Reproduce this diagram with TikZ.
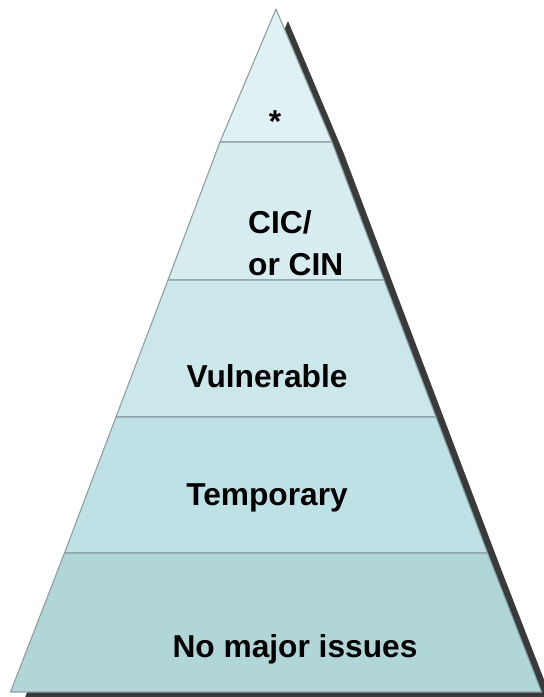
\documentclass[tikz,border=0pt]{standalone}
\usepackage{fontspec}
\setmainfont{Liberation Sans}
\usepackage{tikz}
\usetikzlibrary{positioning}
\definecolor{tierA}{RGB}{224,241,243}
\definecolor{tierB}{RGB}{215,236,239}
\definecolor{tierC}{RGB}{203,231,234}
\definecolor{tierD}{RGB}{189,225,229}
\definecolor{tierE}{RGB}{177,214,216}
\definecolor{tierline}{RGB}{138,160,163}
\definecolor{shadowgray}{RGB}{58,58,58}

\begin{document}
\begin{tikzpicture}[x=1pt, y=-1pt,
    every node/.style={font=\fontsize{31.7}{38}\selectfont\bfseries, inner sep=0pt, anchor=base},
    tier/.style={draw=tierline, line width=1.1pt, line join=round}]
    \useasboundingbox (0,0) rectangle (544,697);
    \clip (0,0) rectangle (544,697);
    % Layers, top to bottom, each with its drop shadow
    \foreach \ya/\wa/\yb/\wb/\col in {9/0/142/56/tierA, 142/56/280/108/tierB,
        280/108/417/160/tierC, 417/160/553/211.5/tierD, 553/211.5/692/265.5/tierE} {
        \fill[shadowgray, shift={(12,12)}] (276-\wa,\ya) -- (276+\wa,\ya) -- (276+\wb,\yb) -- (276-\wb,\yb) -- cycle;
        \filldraw[tier, fill=\col] (276-\wa,\ya) -- (276+\wa,\ya) -- (276+\wb,\yb) -- (276-\wb,\yb) -- cycle;
    }
    % Labels
    \node (apex) at (275,132) {*};
    \node[anchor=base west] (cic) at (248,233) {CIC/};
    \node[anchor=base west] (cin) at (248,275) {or CIN};
    \node (vuln) at (267,387) {Vulnerable};
    \node (temp) at (267,505) {Temporary};
    \node (fine) at (295,657) {No major issues};
\end{tikzpicture}
\end{document}
